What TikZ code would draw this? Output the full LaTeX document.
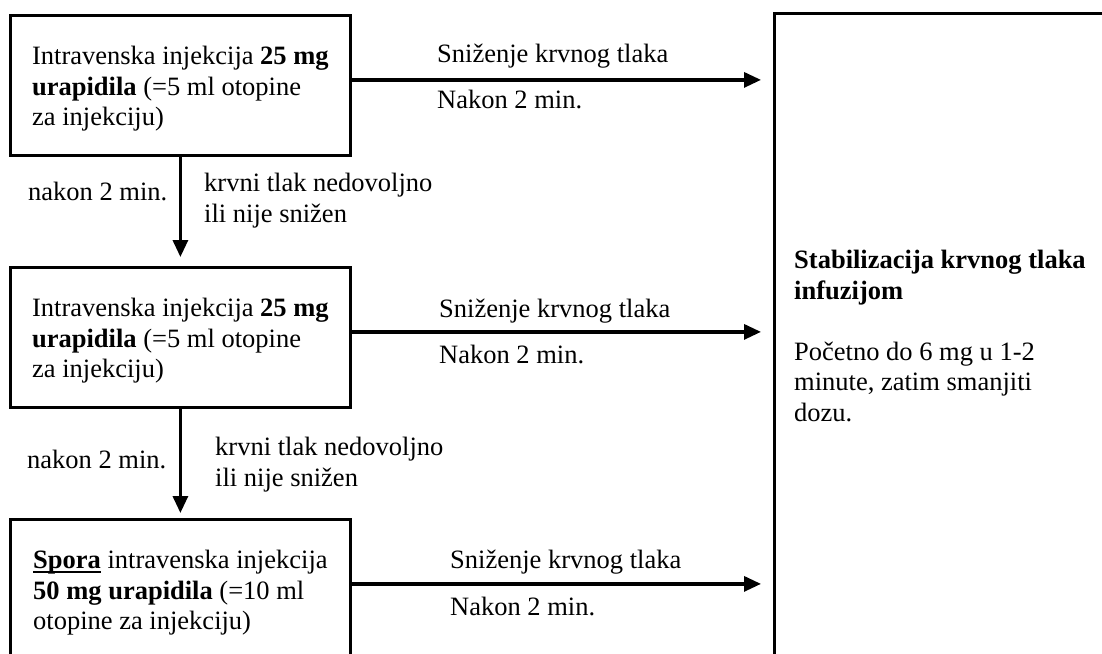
\documentclass[tikz,border=0pt]{standalone}
\usepackage{fontspec}
\setmainfont{Liberation Serif}
\usetikzlibrary{positioning,arrows.meta}

% bold word with a rule just under the baseline
\newcommand{\ulbold}[1]{\setbox0\hbox{\textbf{#1}}\rlap{\rule[-4pt]{\wd0}{1.8pt}}\box0\relax}

\tikzset{
  stepbox/.style={draw, line width=2.8pt, align=left, anchor=north west,
    minimum width=340pt, minimum height=140pt, inner sep=0pt},
  lbl/.style={anchor=base west, inner sep=0pt},
  arr/.style={line width=3.2pt, -{Triangle[length=17pt,width=15pt]}},
}

\begin{document}
\begin{tikzpicture}[x=1pt, y=-1pt, font=\fontsize{26.5}{30.5}\selectfont]
    \useasboundingbox (0,0) rectangle (1102,653);

    % Injection steps
    \node[stepbox] (inj1) at (9,14) {\rule{0pt}{25pt}Intravenska injekcija \textbf{25 mg}\\ \textbf{urapidila} (=5 ml otopine\\ za injekciju)};
    \node[stepbox] (inj2) at (9,266) {\rule{0pt}{25pt}Intravenska injekcija \textbf{25 mg}\\ \textbf{urapidila} (=5 ml otopine\\ za injekciju)};
    \node[stepbox] (inj3) at (9,518) {\rule{0pt}{25pt}\ulbold{Spora} intravenska injekcija\\ \textbf{50 mg urapidila} (=10 ml\\ otopine za injekciju)};

    % Infusion box (runs off the page)
    \node[draw, line width=2.8pt, anchor=north west, minimum width=360pt, minimum height=680pt] (infuzija) at (773,12) {};
    \node[anchor=north west, align=left, inner sep=0pt] (infotxt) at (794,250)
        {\textbf{Stabilizacija krvnog tlaka}\\ \textbf{infuzijom}\\[30.5pt] Početno do 6 mg u 1-2\\ minute, zatim smanjiti\\ dozu.};

    % Arrows to infusion
    \draw[arr, shorten >=12pt] ([yshift=5.5pt]inj1.east) -- ([yshift=5.5pt]inj1.east -| infuzija.west);
    \draw[arr, shorten >=12pt] ([yshift=5.5pt]inj2.east) -- ([yshift=5.5pt]inj2.east -| infuzija.west);
    \draw[arr, shorten >=12pt] ([yshift=5.5pt]inj3.east) -- ([yshift=5.5pt]inj3.east -| infuzija.west);

    \node[lbl] (snizenje1) at (437,62) {Sniženje krvnog tlaka};
    \node[lbl] (nakon1) at (437,108) {Nakon 2 min.};
    \node[lbl] (snizenje2) at (439,317) {Sniženje krvnog tlaka};
    \node[lbl] (nakon2) at (439,363) {Nakon 2 min.};
    \node[lbl] (snizenje3) at (450,568) {Sniženje krvnog tlaka};
    \node[lbl] (nakon3) at (450,615) {Nakon 2 min.};

    % Arrows between steps
    \draw[arr, shorten >=9pt] (inj1.south) -- (inj2.north);
    \draw[arr, shorten >=5pt] (inj2.south) -- (inj3.north);

    \node[lbl] (cekaj1) at (28,200) {nakon 2 min.};
    \node[anchor=north west, align=left, inner sep=0pt] (tlak1) at (204,173) {krvni tlak nedovoljno\\ ili nije snižen};
    \node[lbl] (cekaj2) at (27,468) {nakon 2 min.};
    \node[anchor=north west, align=left, inner sep=0pt] (tlak2) at (215,437) {krvni tlak nedovoljno\\ ili nije snižen};
\end{tikzpicture}
\end{document}
